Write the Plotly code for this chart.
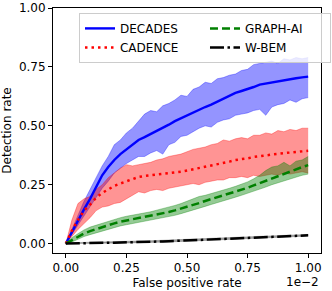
import plotly.graph_objects as go

# False positive rate, in units of 1e-2
fpr = [0.0, 0.025, 0.05, 0.075, 0.1, 0.125, 0.15, 0.175, 0.2, 0.225,
       0.25, 0.275, 0.3, 0.325, 0.35, 0.375, 0.4, 0.425, 0.45, 0.475,
       0.5, 0.525, 0.55, 0.575, 0.6, 0.625, 0.65, 0.675, 0.7, 0.725,
       0.75, 0.775, 0.8, 0.825, 0.85, 0.875, 0.9, 0.925, 0.95, 0.975, 1.0]

decades_mean = [0, 0.05, 0.10, 0.145, 0.19, 0.24, 0.29, 0.325, 0.355, 0.38,
                0.40, 0.42, 0.44, 0.452, 0.465, 0.478, 0.49, 0.505, 0.52, 0.532,
                0.545, 0.558, 0.57, 0.58, 0.59, 0.603, 0.615, 0.628, 0.64, 0.648,
                0.655, 0.665, 0.675, 0.68, 0.685, 0.69, 0.695, 0.699, 0.702, 0.706, 0.709]
decades_hi = [0, 0.06, 0.12, 0.18, 0.23, 0.28, 0.33, 0.37, 0.42, 0.44,
              0.47, 0.49, 0.52, 0.55, 0.565, 0.56, 0.585, 0.595, 0.61, 0.63,
              0.625, 0.655, 0.665, 0.685, 0.68, 0.70, 0.705, 0.715, 0.72, 0.735,
              0.74, 0.76, 0.765, 0.77, 0.775, 0.765, 0.785, 0.78, 0.79, 0.785, 0.79]
decades_lo = [0, 0.04, 0.08, 0.12, 0.16, 0.20, 0.235, 0.265, 0.30, 0.32,
              0.34, 0.355, 0.37, 0.37, 0.385, 0.395, 0.38, 0.42, 0.43, 0.455,
              0.46, 0.475, 0.49, 0.50, 0.495, 0.515, 0.525, 0.53, 0.545, 0.55,
              0.555, 0.565, 0.57, 0.545, 0.58, 0.59, 0.595, 0.61, 0.60, 0.615, 0.62]

cadence_mean = [0, 0.055, 0.10, 0.14, 0.165, 0.195, 0.215, 0.23, 0.245, 0.255,
                0.265, 0.275, 0.283, 0.287, 0.29, 0.292, 0.295, 0.298, 0.30, 0.305,
                0.31, 0.315, 0.32, 0.325, 0.33, 0.335, 0.34, 0.348, 0.355, 0.358,
                0.362, 0.368, 0.372, 0.375, 0.378, 0.381, 0.384, 0.387, 0.39, 0.392, 0.394]
cadence_hi = [0, 0.10, 0.17, 0.19, 0.20, 0.23, 0.25, 0.28, 0.30, 0.32,
              0.335, 0.33, 0.335, 0.34, 0.345, 0.355, 0.36, 0.37, 0.375, 0.38,
              0.39, 0.40, 0.405, 0.41, 0.42, 0.425, 0.44, 0.435, 0.445, 0.45,
              0.445, 0.46, 0.46, 0.47, 0.465, 0.48, 0.475, 0.485, 0.48, 0.49, 0.49]
cadence_lo = [0, 0.03, 0.06, 0.085, 0.11, 0.14, 0.155, 0.16, 0.17, 0.175,
              0.19, 0.205, 0.22, 0.215, 0.225, 0.23, 0.225, 0.235, 0.24, 0.245,
              0.25, 0.255, 0.25, 0.26, 0.265, 0.27, 0.27, 0.28, 0.28, 0.285,
              0.28, 0.29, 0.285, 0.29, 0.295, 0.29, 0.30, 0.295, 0.30, 0.305, 0.30]

graphai_mean = [0, 0.015, 0.03, 0.043, 0.053, 0.062, 0.07, 0.078, 0.086, 0.093,
                0.098, 0.102, 0.106, 0.111, 0.116, 0.122, 0.128, 0.134, 0.141, 0.148,
                0.156, 0.164, 0.172, 0.181, 0.189, 0.196, 0.203, 0.211, 0.219, 0.228,
                0.237, 0.247, 0.257, 0.267, 0.277, 0.288, 0.298, 0.308, 0.317, 0.325, 0.333]
graphai_hi = [0, 0.025, 0.042, 0.058, 0.07, 0.078, 0.088, 0.095, 0.104, 0.11,
              0.116, 0.12, 0.125, 0.13, 0.135, 0.142, 0.148, 0.155, 0.162, 0.17,
              0.18, 0.19, 0.20, 0.205, 0.212, 0.218, 0.226, 0.235, 0.243, 0.252,
              0.262, 0.275, 0.29, 0.31, 0.325, 0.33, 0.345, 0.33, 0.35, 0.355, 0.37]
graphai_lo = [0, 0.007, 0.018, 0.03, 0.038, 0.046, 0.053, 0.06, 0.068, 0.075,
              0.08, 0.085, 0.089, 0.093, 0.098, 0.103, 0.108, 0.114, 0.12, 0.127,
              0.134, 0.142, 0.15, 0.158, 0.166, 0.173, 0.181, 0.189, 0.197, 0.205,
              0.213, 0.222, 0.232, 0.24, 0.25, 0.258, 0.265, 0.275, 0.282, 0.29, 0.295]

wbem_mean = [0, 0.001, 0.001, 0.002, 0.002, 0.003, 0.003, 0.004, 0.004, 0.005,
             0.005, 0.006, 0.007, 0.007, 0.008, 0.009, 0.009, 0.010, 0.011, 0.012,
             0.013, 0.014, 0.015, 0.016, 0.017, 0.018, 0.019, 0.020, 0.021, 0.022,
             0.023, 0.024, 0.025, 0.026, 0.027, 0.028, 0.029, 0.030, 0.031, 0.033, 0.035]
wbem_hi = [0, 0.003, 0.004, 0.005, 0.006, 0.007, 0.007, 0.008, 0.008, 0.009,
           0.009, 0.010, 0.011, 0.011, 0.012, 0.013, 0.013, 0.014, 0.015, 0.016,
           0.017, 0.018, 0.019, 0.020, 0.021, 0.022, 0.023, 0.024, 0.025, 0.026,
           0.027, 0.028, 0.029, 0.030, 0.031, 0.032, 0.033, 0.034, 0.035, 0.037, 0.039]
wbem_lo = [0, 0.0, 0.0, 0.0, 0.0, 0.0, 0.0, 0.001, 0.001, 0.002,
           0.002, 0.003, 0.004, 0.004, 0.005, 0.006, 0.006, 0.007, 0.008, 0.009,
           0.010, 0.011, 0.012, 0.013, 0.014, 0.015, 0.016, 0.017, 0.018, 0.019,
           0.020, 0.021, 0.022, 0.023, 0.024, 0.025, 0.026, 0.027, 0.028, 0.030, 0.032]

x_ticks = [0.0, 0.25, 0.5, 0.75, 1.0]
x_ticktext = ["0.00", "0.25", "0.50", "0.75", "1.00"]
y_ticks = [0.0, 0.25, 0.5, 0.75, 1.0]
y_ticktext = ["0.00", "0.25", "0.50", "0.75", "1.00"]

series = [
    ("DECADES", decades_mean, decades_hi, decades_lo, "#0000ff",
     "rgba(0,0,255,0.42)", "rgba(0,0,255,0.55)", "solid", 2.4, 1),
    ("CADENCE", cadence_mean, cadence_hi, cadence_lo, "#ff0000",
     "rgba(255,0,0,0.42)", "rgba(255,0,0,0.55)", "2.5px,4px", 2.5, 3),
    ("GRAPH-AI", graphai_mean, graphai_hi, graphai_lo, "#008000",
     "rgba(0,128,0,0.42)", "rgba(0,128,0,0.55)", "8px,4px", 2.5, 2),
    ("W-BEM", wbem_mean, wbem_hi, wbem_lo, "#000000",
     "rgba(0,0,0,0.35)", "rgba(0,0,0,0.4)", "14px,3.5px,2.5px,3.5px", 2.5, 4),
]

fig = go.Figure()
for name, m, hi, lo, col, fill, edge, dash, lw, rank in series:
    fig.add_trace(go.Scatter(x=fpr, y=hi, mode="lines",
                             line=dict(color=edge, width=0.6),
                             showlegend=False, hoverinfo="skip"))
    fig.add_trace(go.Scatter(x=fpr, y=lo, mode="lines", fill="tonexty",
                             fillcolor=fill, line=dict(color=edge, width=0.6),
                             showlegend=False, hoverinfo="skip"))
for name, m, hi, lo, col, fill, edge, dash, lw, rank in series:
    fig.add_trace(go.Scatter(x=fpr, y=m, mode="lines", name=name,
                             line=dict(color=col, width=lw, dash=dash),
                             legendrank=rank))

font = dict(family="DejaVu Sans", size=12, color="black")
axis_common = dict(showline=True, linecolor="black", linewidth=1, mirror=True,
                   ticks="outside", ticklen=4, tickcolor="black", showgrid=False,
                   zeroline=False, tickfont=font, ticklabeloverflow="allow")

fig.update_layout(
    width=332, height=291,
    margin=dict(l=53, r=1, t=5, b=38),
    paper_bgcolor="white", plot_bgcolor="white",
    font=font,
    xaxis=dict(range=[-0.053, 1.053], tickvals=x_ticks, ticktext=x_ticktext,
               title=dict(text="False positive rate", font=font, standoff=4),
               **axis_common),
    yaxis=dict(range=[-0.04, 1.0005], tickvals=y_ticks, ticktext=y_ticktext,
               title=dict(text="Detection rate", font=font, standoff=4),
               **axis_common),
    legend=dict(orientation="h", x=0.097, y=0.98, xanchor="left", yanchor="top",
                bgcolor="rgba(255,255,255,0.8)", bordercolor="#cccccc",
                borderwidth=1, font=font, entrywidth=80, traceorder="normal",
                itemwidth=30, tracegroupgap=0),
    annotations=[dict(text="1e\u22122", x=1.0, y=0.0, xref="paper", yref="paper",
                      xanchor="right", yanchor="top", yshift=-20, showarrow=False,
                      font=font)],
)

fig.write_html("out.html", config={"displayModeBar": False},
               post_script="document.body.style.margin='0';document.body.style.overflow='hidden';")
